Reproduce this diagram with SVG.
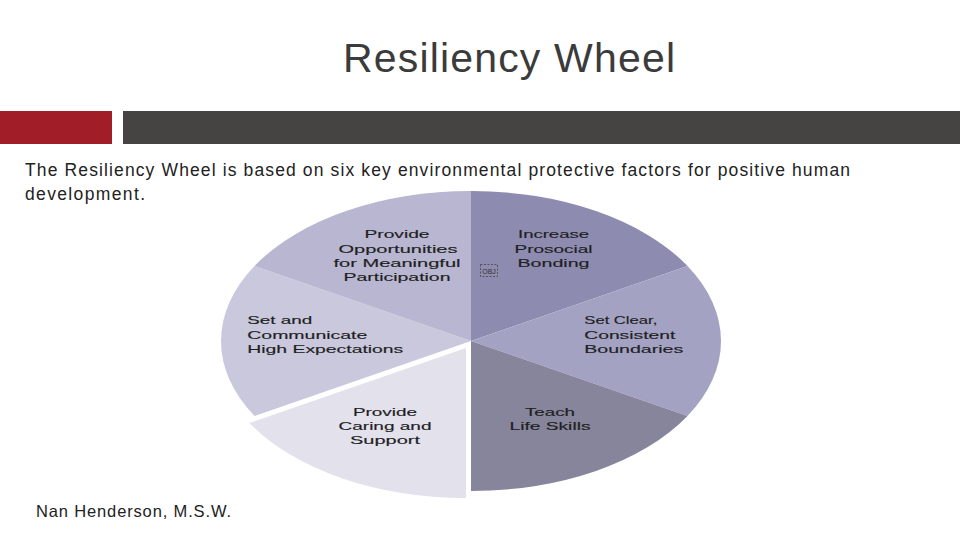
<svg xmlns="http://www.w3.org/2000/svg" width="960" height="540" viewBox="0 0 960 540">
<style>
.lbl{font-family:"Liberation Sans",Arial,sans-serif;font-size:11.5px;fill:#1f1f1f;stroke:#1f1f1f;stroke-width:0.15px;}
.c{text-anchor:middle;}
.body{font-family:"Liberation Sans",Arial,sans-serif;fill:#222;}
</style>
<rect x="0" y="0" width="960" height="540" fill="#fff"/>
<g id="title"><text x="509" y="72" text-anchor="middle" font-family="Liberation Sans, Arial, sans-serif" font-size="41" fill="#3b3b3b" textLength="332" lengthAdjust="spacing">Resiliency Wheel</text></g>
<g id="bars">
<rect x="0" y="111" width="112" height="33" fill="#a11d27"/>
<rect x="123" y="111" width="837" height="33" fill="#454442"/>
</g>
<g id="intro">
<text class="body" x="25" y="176" font-size="17.5" textLength="825" lengthAdjust="spacing">The Resiliency Wheel is based on six key environmental protective factors for positive human</text>
<text class="body" x="25" y="200" font-size="17.5" textLength="120" lengthAdjust="spacing">development.</text>
</g>
<g id="wheel">
<g id="slice-prosocial">
<path d="M471,341 L471,191 A250,150 0 0 1 687.5,266 Z" fill="#8d8cb0"/>
<text class="lbl c" x="553.5" y="238.3" textLength="71" lengthAdjust="spacingAndGlyphs">Increase</text>
<text class="lbl c" x="553.5" y="252.7" textLength="78" lengthAdjust="spacingAndGlyphs">Prosocial</text>
<text class="lbl c" x="553.5" y="267" textLength="72" lengthAdjust="spacingAndGlyphs">Bonding</text>
</g>
<g id="slice-boundaries">
<path d="M471,341 L687.5,266 A250,150 0 0 1 687.5,416 Z" fill="#a3a2c3"/>
<text class="lbl" x="584.3" y="324.3" textLength="73" lengthAdjust="spacingAndGlyphs">Set Clear,</text>
<text class="lbl" x="584.3" y="339" textLength="91" lengthAdjust="spacingAndGlyphs">Consistent</text>
<text class="lbl" x="584.3" y="353.3" textLength="99" lengthAdjust="spacingAndGlyphs">Boundaries</text>
</g>
<g id="slice-lifeskills">
<path d="M471,341 L687.5,416 A250,150 0 0 1 471,491 Z" fill="#86859c"/>
<text class="lbl c" x="550" y="415.7" textLength="50" lengthAdjust="spacingAndGlyphs">Teach</text>
<text class="lbl c" x="550" y="430" textLength="81" lengthAdjust="spacingAndGlyphs">Life Skills</text>
</g>
<g id="slice-caring" transform="translate(-5,7)">
<path d="M471,341 L471,491 A250,150 0 0 1 254.5,416 Z" fill="#e2e1ec"/>
</g>
<g id="slice-caring-label">
<text class="lbl c" x="385" y="415.7" textLength="64" lengthAdjust="spacingAndGlyphs">Provide</text>
<text class="lbl c" x="385" y="430" textLength="93" lengthAdjust="spacingAndGlyphs">Caring and</text>
<text class="lbl c" x="385" y="444.3" textLength="70" lengthAdjust="spacingAndGlyphs">Support</text>
</g>
<g id="slice-expectations">
<path d="M471,341 L254.5,416 A250,150 0 0 1 254.5,266 Z" fill="#c9c8dc"/>
<text class="lbl" x="247.3" y="324.3" textLength="65" lengthAdjust="spacingAndGlyphs">Set and</text>
<text class="lbl" x="247.3" y="339" textLength="120" lengthAdjust="spacingAndGlyphs">Communicate</text>
<text class="lbl" x="247.3" y="353.3" textLength="156" lengthAdjust="spacingAndGlyphs">High Expectations</text>
</g>
<g id="slice-participation">
<path d="M471,341 L254.5,266 A250,150 0 0 1 471,191 Z" fill="#b8b6d0"/>
<text class="lbl c" x="397" y="238.3" textLength="65" lengthAdjust="spacingAndGlyphs">Provide</text>
<text class="lbl c" x="398" y="252.7" textLength="119" lengthAdjust="spacingAndGlyphs">Opportunities</text>
<text class="lbl c" x="397" y="266.7" textLength="127" lengthAdjust="spacingAndGlyphs">for Meaningful</text>
<text class="lbl c" x="397" y="281" textLength="107" lengthAdjust="spacingAndGlyphs">Participation</text>
</g>
<g id="obj">
<rect x="480.5" y="264.5" width="17" height="12" fill="none" stroke="#444" stroke-width="0.8" stroke-dasharray="2,1.5"/>
<text x="489" y="273.5" text-anchor="middle" font-family="Liberation Sans, Arial, sans-serif" font-size="7" fill="#333">OBJ</text>
</g>
</g>
<g id="connectors"/>
<g id="credit"><text class="body" x="36" y="517" font-size="16.5" textLength="195" lengthAdjust="spacing">Nan Henderson, M.S.W.</text></g>
</svg>
